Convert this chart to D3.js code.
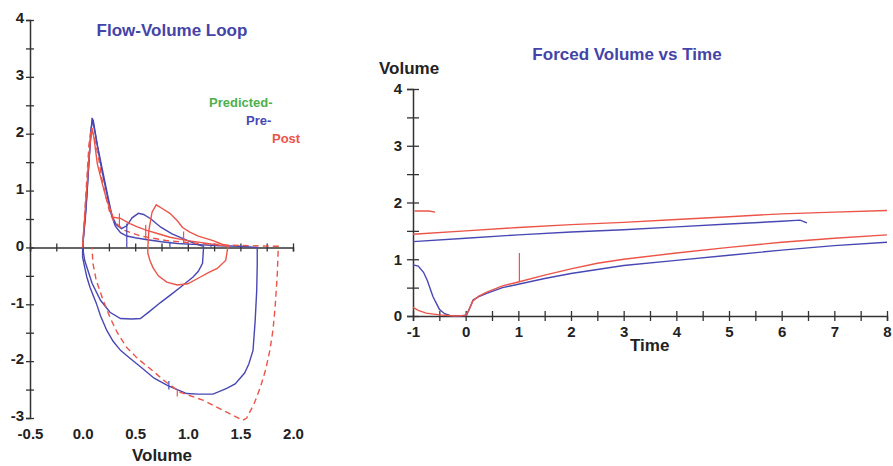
<!DOCTYPE html>
<html>
<head>
<meta charset="utf-8">
<script src="https://cdn.jsdelivr.net/npm/d3@7"></script>
<style>
  body { margin: 0; background: #fff; }
  svg { display: block; }
  text { font-family: "Liberation Sans", Arial, sans-serif; font-weight: bold; }
</style>
</head>
<body>
<div id="chart"></div>
<script>
//////////
// DATA //
//////////

// Flow-Volume Loop (x = volume, y = flow)
const loopTicksX = [-0.5, 0.0, 0.5, 1.0, 1.5, 2.0];
const loopMinorX = [-0.25, 0.25, 0.75, 1.25, 1.75];
const loopTicksY = [-3, -2, -1, 0, 1, 2, 3, 4];
const loopMinorY = [-2.5, -1.5, -0.5, 0.5, 1.5, 2.5, 3.5];

const preLoopA = [[0.0,0],[0.03,0.6],[0.06,1.5],[0.09,2.28],[0.12,2.0],[0.165,1.53],[0.2,1.2],[0.23,0.95],[0.27,0.6],[0.31,0.38],[0.36,0.26],[0.42,0.2],[0.5,0.17],[0.6,0.14],[0.75,0.1],[0.9,0.07],[1.1,0.05],[1.3,0.03],[1.5,0.02],[1.66,0],
  [1.66,-0.3],[1.655,-0.76],[1.64,-1.3],[1.62,-1.81],[1.58,-2.05],[1.54,-2.21],[1.45,-2.4],[1.37,-2.48],[1.24,-2.58],[1.1,-2.58],[0.99,-2.57],[0.81,-2.43],[0.68,-2.3],[0.55,-2.1],[0.45,-1.95],[0.36,-1.81],[0.29,-1.65],[0.23,-1.46],[0.17,-1.2],[0.13,-0.98],[0.07,-0.7],[0.04,-0.52],[0.02,-0.35],[0.0,-0.17],[0,0]];
const preLoopB = [[0.0,0],[0.04,0.9],[0.08,2.1],[0.1,2.25],[0.14,1.8],[0.19,1.35],[0.24,0.9],[0.28,0.55],[0.32,0.4],[0.37,0.33],[0.42,0.38],[0.47,0.52],[0.53,0.6],[0.58,0.58],[0.65,0.5],[0.74,0.36],[0.85,0.24],[1.0,0.12],[1.08,0.06],[1.15,0.02],
  [1.15,0],[1.14,-0.28],[1.1,-0.42],[1.05,-0.52],[0.93,-0.7],[0.84,-0.83],[0.74,-0.97],[0.64,-1.12],[0.55,-1.25],[0.47,-1.26],[0.36,-1.25],[0.26,-1.14],[0.17,-0.93],[0.09,-0.63],[0.02,-0.23],[0,0]];
const postLoopA = [[0.0,0],[0.03,0.8],[0.07,1.8],[0.09,2.1],[0.11,1.9],[0.14,1.47],[0.19,1.1],[0.23,0.83],[0.29,0.53],[0.36,0.51],[0.45,0.42],[0.52,0.36],[0.61,0.3],[0.72,0.24],[0.83,0.18],[1.0,0.12],[1.15,0.08],[1.3,0.04],[1.4,0.02]];
const postLoopB = [[0.62,0],[0.63,0.3],[0.66,0.62],[0.7,0.75],[0.76,0.68],[0.83,0.6],[0.9,0.47],[0.95,0.35],[1.02,0.27],[1.1,0.2],[1.24,0.12],[1.32,0.06],[1.38,0.02],
  [1.38,0],[1.37,-0.12],[1.36,-0.23],[1.28,-0.37],[1.2,-0.44],[1.12,-0.52],[1.0,-0.64],[0.9,-0.66],[0.8,-0.61],[0.72,-0.5],[0.67,-0.36],[0.64,-0.23],[0.62,-0.1],[0.62,0]];
const postDashed = [[0.0,0],[0.03,0.9],[0.06,1.8],[0.08,2.1],[0.11,1.95],[0.15,1.6],[0.18,1.23],[0.22,0.9],[0.26,0.6],[0.3,0.45],[0.4,0.3],[0.55,0.2],[0.8,0.12],[1.1,0.07],[1.4,0.04],[1.6,0.03],[1.86,0.02],
  [1.86,0],[1.85,-0.5],[1.83,-1.05],[1.81,-1.45],[1.78,-1.81],[1.74,-2.15],[1.69,-2.46],[1.63,-2.75],[1.56,-3.0],[1.52,-3.04],[1.35,-2.88],[1.15,-2.69],[0.93,-2.55],[0.78,-2.35],[0.64,-2.13],[0.52,-1.95],[0.42,-1.76],[0.33,-1.5],[0.26,-1.23],[0.19,-0.9],[0.13,-0.58],[0.1,-0.3],[0.09,-0.05],[0.09,0]];
// short vertical event marks [x, y0, y1]
const preMarks = [[0.42,0,0.42],[0.83,0,0.1],[1.22,0,0.05],[0.82,-2.35,-2.5]];
const postMarks = [[0.35,0.35,0.6],[0.6,0.15,0.4],[0.96,0.08,0.28],[0.9,-2.5,-2.62]];

const legendLabels = ["Predicted-", "Pre-", "Post"];

// Forced Volume vs Time (x = time, y = volume)
const fvtTicksX = [-1, 0, 1, 2, 3, 4, 5, 6, 7, 8];
const fvtMinorX = [-0.5, 0.5, 1.5, 2.5, 3.5, 4.5, 5.5, 6.5, 7.5];
const fvtTicksY = [0, 1, 2, 3, 4];
const fvtMinorY = [0.5, 1.5, 2.5, 3.5];

const postUpper = [[-1,1.44],[0,1.5],[1,1.56],[2,1.61],[3,1.65],[4,1.7],[5,1.75],[6,1.8],[7,1.83],[8,1.86]];
const preUpper = [[-1,1.31],[0,1.37],[1,1.43],[2,1.48],[3,1.52],[4,1.57],[5,1.62],[6,1.67],[6.35,1.69],[6.48,1.64]];
const postShort = [[-0.97,1.85],[-0.7,1.85],[-0.58,1.83]];
const preLower = [[-1,0.9],[-0.9,0.88],[-0.8,0.77],[-0.73,0.63],[-0.62,0.34],[-0.5,0.12],[-0.4,0.04],[-0.3,0.01],[-0.1,0.0],[0.02,0.02],[0.08,0.15],[0.14,0.28],[0.25,0.34],[0.4,0.4],[0.7,0.5],[1.0,0.56],[1.5,0.66],[2,0.75],[2.5,0.82],[3,0.89],[4,0.98],[5,1.07],[6,1.16],[7,1.24],[8,1.3]];
const postLower = [[-1,0.15],[-0.9,0.1],[-0.75,0.05],[-0.5,0.02],[-0.2,0.0],[0,0.01],[0.06,0.1],[0.14,0.27],[0.25,0.35],[0.4,0.42],[0.7,0.53],[1.0,0.6],[1.5,0.72],[2,0.83],[2.5,0.93],[3,1.0],[4,1.11],[5,1.21],[6,1.3],[7,1.37],[8,1.43]];
const postSpike = [[1.02,0.6,1.11]];

////////////
// STYLES //
////////////

const BLUE = "#4848b4";
const RED = "#ec5448";
const GREEN = "#4cb04c";
const TITLE = "#4444a8";
const AXIS = "#333";

const svg = d3.select("#chart").append("svg")
  .attr("width", 893)
  .attr("height", 466);

// axis with ticks that cross the line
function crossAxis(g, axisFn, ticks, minor, tick, vertical) {
  g.call(axisFn.tickValues(ticks.concat(minor)).tickSize(tick).tickFormat(""));
  g.select(".domain").attr("stroke", AXIS).attr("stroke-width", 1.5);
  g.selectAll(".tick line")
    .attr("stroke", AXIS)
    .attr("stroke-width", 1.3)
    .attr(vertical ? "x1" : "y1", -tick)
    .attr(vertical ? "x2" : "y2", tick);
}

function labelAxis(g, axisFn, ticks, fmt) {
  g.call(axisFn.tickValues(ticks).tickSize(0).tickFormat(fmt));
  g.select(".domain").remove();
  g.selectAll(".tick text")
    .attr("fill", "#222")
    .style("font-size", "15px")
    .style("font-family", "'Liberation Sans', Arial, sans-serif")
    .style("font-weight", "bold");
}

/////////////////////
// FLOW-VOLUME LOOP //
/////////////////////

const lx = d3.scaleLinear().domain([-0.5, 2.0]).range([30, 293]);
const ly = d3.scaleLinear().domain([-3, 4]).range([418, 20]);
const left = svg.append("g");

crossAxis(left.append("g").attr("transform", "translate(0," + ly(0) + ")"),
  d3.axisBottom(lx), loopTicksX, loopMinorX, 4, false);
crossAxis(left.append("g").attr("transform", "translate(" + lx(-0.5) + ",0)"),
  d3.axisLeft(ly), loopTicksY, loopMinorY, 4, true);

labelAxis(left.append("g").attr("transform", "translate(0,428)"),
  d3.axisBottom(lx).tickPadding(0), loopTicksX, d => d.toFixed(1).replace("\u2212", "-"));
labelAxis(left.append("g").attr("transform", "translate(" + (lx(-0.5) - 6) + ",-2)"),
  d3.axisLeft(ly).tickPadding(0), loopTicksY, d => String(d));

const lline = d3.line().x(d => lx(d[0])).y(d => ly(d[1]));

[[preLoopA, BLUE, null], [preLoopB, BLUE, null], [postLoopA, RED, null],
 [postLoopB, RED, null], [postDashed, RED, "6,4"]].forEach(function (s) {
  left.append("path")
    .datum(s[0])
    .attr("d", lline)
    .attr("fill", "none")
    .attr("stroke", s[1])
    .attr("stroke-width", 1.4)
    .attr("stroke-dasharray", s[2]);
});

[[preMarks, BLUE], [postMarks, RED]].forEach(function (m) {
  left.selectAll(null).data(m[0]).enter().append("line")
    .attr("x1", d => lx(d[0])).attr("x2", d => lx(d[0]))
    .attr("y1", d => ly(d[1])).attr("y2", d => ly(d[2]))
    .attr("stroke", m[1]).attr("stroke-width", 1.2);
});

left.append("text")
  .attr("x", 172).attr("y", 36)
  .attr("text-anchor", "middle")
  .attr("fill", TITLE)
  .style("font-size", "17px")
  .text("Flow-Volume Loop");

left.append("text")
  .attr("x", 162).attr("y", 461)
  .attr("text-anchor", "middle")
  .attr("fill", "#222")
  .style("font-size", "17px")
  .text("Volume");

const legendPos = [[209, 107, GREEN], [246, 125, BLUE], [272, 143, RED]];
left.selectAll(".legend").data(legendLabels).enter().append("text")
  .attr("class", "legend")
  .attr("x", (d, i) => legendPos[i][0])
  .attr("y", (d, i) => legendPos[i][1])
  .attr("fill", (d, i) => legendPos[i][2])
  .style("font-size", "13px")
  .text(d => d);

//////////////////////////
// FORCED VOLUME VS TIME //
//////////////////////////

const rx = d3.scaleLinear().domain([-1, 8]).range([413, 887]);
const ry = d3.scaleLinear().domain([0, 4]).range([316, 89]);
const right = svg.append("g");

crossAxis(right.append("g").attr("transform", "translate(0," + ry(0) + ")"),
  d3.axisBottom(rx), fvtTicksX, fvtMinorX, 5, false);
crossAxis(right.append("g").attr("transform", "translate(" + rx(-1) + ",0)"),
  d3.axisLeft(ry), fvtTicksY, fvtMinorY, 6, true);

labelAxis(right.append("g").attr("transform", "translate(0," + (ry(0) + 10) + ")"),
  d3.axisBottom(rx).tickPadding(0), fvtTicksX, d => String(d).replace("\u2212", "-"));
labelAxis(right.append("g").attr("transform", "translate(" + (rx(-1) - 11) + ",0)"),
  d3.axisLeft(ry).tickPadding(0), fvtTicksY, d => String(d));

const rline = d3.line().x(d => rx(d[0])).y(d => ry(d[1]));

[[postUpper, RED], [preUpper, BLUE], [postShort, RED], [preLower, BLUE], [postLower, RED]].forEach(function (s) {
  right.append("path")
    .datum(s[0])
    .attr("d", rline)
    .attr("fill", "none")
    .attr("stroke", s[1])
    .attr("stroke-width", 1.4);
});

right.selectAll(null).data(postSpike).enter().append("line")
  .attr("x1", d => rx(d[0])).attr("x2", d => rx(d[0]))
  .attr("y1", d => ry(d[1])).attr("y2", d => ry(d[2]))
  .attr("stroke", RED).attr("stroke-width", 1.2);

right.append("text")
  .attr("x", 627).attr("y", 60)
  .attr("text-anchor", "middle")
  .attr("fill", TITLE)
  .style("font-size", "17px")
  .text("Forced Volume vs Time");

right.append("text")
  .attr("x", 379).attr("y", 74)
  .attr("fill", "#222")
  .style("font-size", "17px")
  .text("Volume");

right.append("text")
  .attr("x", 630).attr("y", 351)
  .attr("fill", "#222")
  .style("font-size", "17px")
  .text("Time");
</script>
</body>
</html>
